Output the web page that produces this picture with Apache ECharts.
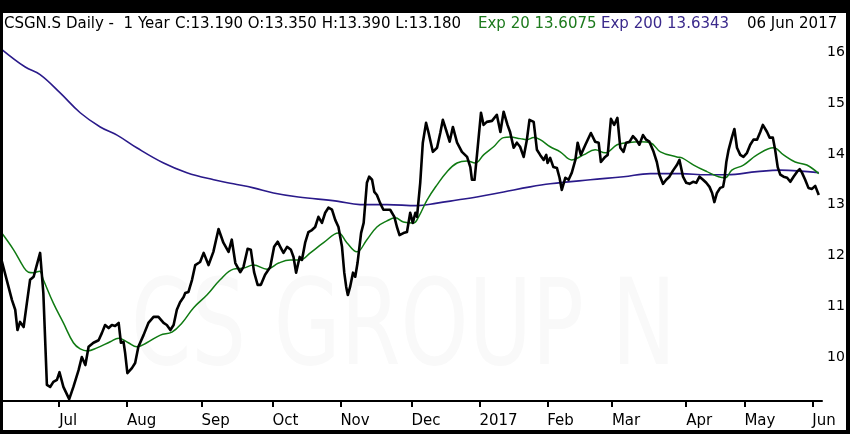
<!DOCTYPE html>
<html>
<head>
<meta charset="utf-8">
<script src="https://cdn.jsdelivr.net/npm/echarts@6/dist/echarts.min.js"></script>
<style>
  html, body { margin: 0; padding: 0; background: #fff; }
  #chart { width: 850px; height: 434px; }
</style>
</head>
<body>
<div id="chart"></div>
<script>
// trading day index (0 = 7 Jun 2016) , price
var closes = [
  [0,11.95],[3.4,11.12],[4.4,10.93],[5.1,10.53],[5.9,10.69],[7.0,10.59],[8.0,11.06],[9.0,11.52],
  [10.1,11.58],[10.9,11.77],[12.1,12.05],[13.1,11.26],[14.2,9.45],[15.2,9.41],[16.2,9.51],[17.3,9.55],
  [18.1,9.70],[19.3,9.41],[21.1,9.17],[22.4,9.41],[24.0,9.74],[25.0,10.00],[26.1,9.84],[27.1,10.20],
  [28.6,10.28],[30.2,10.33],[31.2,10.47],[32.2,10.63],[33.3,10.57],[34.3,10.63],[35.3,10.61],[36.4,10.67],
  [37.1,10.28],[37.9,10.30],[38.4,10.08],[39.1,9.68],[40.5,9.78],[41.5,9.88],[42.5,10.20],[44.1,10.43],
  [45.6,10.67],[47.2,10.79],[48.7,10.79],[50.3,10.67],[51.3,10.63],[52.4,10.53],[53.4,10.63],[54.4,10.93],
  [55.4,11.08],[56.5,11.18],[57.0,11.26],[58.0,11.28],[59.1,11.52],[60.1,11.81],[61.6,11.87],[62.7,12.05],
  [64.2,11.81],[65.7,12.07],[67.3,12.52],[68.8,12.25],[70.4,12.07],[71.4,12.31],[72.5,11.85],[74.0,11.67],
  [75.0,11.77],[76.3,12.13],[77.3,12.11],[78.3,11.67],[79.4,11.42],[80.4,11.42],[81.7,11.62],[83.3,11.77],
  [84.5,12.17],[85.6,12.27],[86.4,12.17],[87.4,12.05],[88.5,12.17],[89.7,12.11],[90.5,11.97],[91.3,11.66],
  [92.4,11.97],[93.1,11.91],[94.1,12.25],[95.1,12.46],[96.2,12.50],[97.2,12.56],[98.2,12.76],[99.3,12.64],
  [100.3,12.84],[101.3,12.94],[102.4,12.90],[103.4,12.70],[104.4,12.56],[105.5,12.17],[106.2,11.66],[106.8,11.38],
  [107.3,11.22],[108.0,11.38],[108.9,11.66],[109.6,11.58],[110.3,11.85],[111.4,12.44],[112.2,12.64],[113.2,13.43],
  [113.9,13.55],[114.8,13.49],[115.5,13.25],[116.3,13.19],[117.3,13.03],[118.3,12.90],[119.4,12.90],[120.4,12.90],
  [121.7,12.76],[122.5,12.56],[123.3,12.40],[124.5,12.44],[125.6,12.46],[126.6,12.84],[127.4,12.64],[128.2,12.84],
  [128.7,12.76],[129.7,13.43],[130.5,14.22],[131.5,14.61],[132.3,14.41],[133.6,14.04],[134.9,14.12],[135.9,14.41],
  [136.7,14.67],[137.7,14.47],[138.8,14.24],[139.8,14.53],[141.1,14.22],[142.6,14.04],[144.2,13.94],[145.2,13.74],
  [145.7,13.49],[146.5,13.49],[147.2,13.94],[148.5,14.81],[149.3,14.57],[150.3,14.63],[151.9,14.65],[153.4,14.77],
  [154.5,14.43],[155.5,14.83],[156.7,14.57],[157.5,14.43],[158.6,14.12],[159.6,14.22],[160.6,14.14],[161.7,13.94],
  [162.7,14.28],[163.5,14.67],[164.8,14.63],[165.8,14.08],[166.8,13.98],[167.9,13.88],[168.7,13.98],[169.1,13.82],
  [169.9,13.92],[170.9,13.74],[172.0,13.72],[172.8,13.53],[173.5,13.29],[174.6,13.53],[175.6,13.49],[176.6,13.63],
  [177.7,13.88],[178.4,14.22],[179.4,13.98],[180.8,14.18],[182.5,14.41],[183.8,14.24],[184.9,14.22],[185.6,13.84],
  [186.9,13.94],[187.7,13.98],[188.7,14.69],[189.7,14.57],[190.7,14.71],[191.6,14.12],[192.6,14.04],[193.4,14.22],
  [194.5,14.24],[195.5,14.35],[196.5,14.28],[197.5,14.18],[198.6,14.37],[199.6,14.28],[200.6,14.24],[201.9,14.04],
  [202.9,13.84],[203.7,13.59],[204.8,13.41],[205.8,13.49],[206.8,13.55],[207.9,13.67],[209.1,13.78],[209.9,13.88],
  [211.0,13.55],[212.0,13.43],[213.0,13.41],[214.1,13.45],[215.1,13.43],[216.1,13.55],[217.2,13.49],[218.2,13.43],
  [219.2,13.35],[220.0,13.23],[220.7,13.05],[221.5,13.23],[222.5,13.33],[223.4,13.35],[223.8,13.49],[224.4,13.84],
  [225.1,14.08],[226.1,14.32],[226.9,14.49],[227.7,14.12],[228.7,13.98],[229.7,13.94],[230.8,14.02],[231.8,14.18],
  [232.8,14.28],[233.9,14.28],[234.9,14.43],[235.7,14.57],[237.0,14.43],[237.8,14.32],[238.8,14.32],[239.5,14.08],
  [240.3,13.74],[241.1,13.59],[242.1,13.55],[243.2,13.53],[244.2,13.45],[245.2,13.55],[246.3,13.65],[247.1,13.70],
  [247.8,13.63],[248.8,13.49],[249.8,13.33],[250.9,13.31],[251.9,13.37],[253.0,13.19]
];

var ema20 = [
  [0,12.46],[3.9,12.11],[7.0,11.77],[8.5,11.67],[10.1,11.66],[11.9,11.69],[13.1,11.52],[16.2,11.06],
  [19.3,10.67],[22.4,10.28],[24.5,10.16],[26.8,10.12],[29.7,10.18],[33.8,10.30],[36.4,10.37],[39.4,10.28],
  [42.0,10.20],[45.1,10.28],[49.3,10.43],[52.9,10.49],[56.0,10.67],[59.6,10.97],[63.7,11.22],[67.8,11.52],
  [71.9,11.73],[75.0,11.75],[78.1,11.81],[82.3,11.73],[85.9,11.85],[89.5,11.91],[92.6,11.91],[95.7,12.05],
  [99.8,12.25],[104.4,12.44],[107.0,12.25],[110.1,12.07],[113.2,12.31],[116.3,12.56],[119.4,12.68],[122.0,12.74],
  [124.5,12.66],[127.6,12.64],[129.2,12.76],[131.8,13.09],[134.9,13.39],[138.0,13.65],[141.1,13.82],[144.2,13.86],
  [146.7,13.82],[149.3,13.98],[152.4,14.14],[155.5,14.32],[157.5,14.33],[160.6,14.30],[162.7,14.28],[164.8,14.32],
  [166.8,14.28],[169.9,14.14],[173.0,14.04],[176.6,13.88],[180.2,13.98],[183.8,14.08],[186.9,14.02],[190.6,14.18],
  [193.7,14.22],[197.8,14.24],[200.9,14.22],[204.0,14.04],[209.1,13.94],[210.7,13.92],[214.3,13.78],[218.4,13.65],
  [222.0,13.55],[224.1,13.53],[226.1,13.68],[229.7,13.78],[233.9,13.98],[239.0,14.12],[242.1,13.98],[245.7,13.84],
  [249.3,13.78],[253.0,13.61]
];

var ema200 = [
  [0,16.07],[7.5,15.71],[12.1,15.56],[18.3,15.20],[24.5,14.81],[30.7,14.53],[35.9,14.37],[42.0,14.12],
  [50.3,13.82],[57.5,13.63],[65.8,13.49],[71.9,13.41],[78.1,13.33],[84.3,13.23],[92.0,13.15],[103.9,13.07],
  [111.1,13.00],[119.4,13.00],[128.7,12.98],[134.9,13.03],[141.1,13.09],[147.2,13.15],[155.5,13.25],[163.7,13.35],
  [169.9,13.41],[182.3,13.49],[192.6,13.55],[200.9,13.61],[210.2,13.61],[218.4,13.59],[224.6,13.59],[233.9,13.65],
  [241.1,13.68],[253.0,13.63]
];

var monthTicks = [18, 39, 62, 84, 105, 127, 148, 169, 189, 212, 230, 251];
var monthNames = ['Jul', 'Aug', 'Sep', 'Oct', 'Nov', 'Dec', '2017', 'Feb', 'Mar', 'Apr', 'May', 'Jun'];
var priceTicks = [10, 11, 12, 13, 14, 15, 16];

var FONT = '"DejaVu Sans", sans-serif';

var chart = echarts.init(document.getElementById('chart'));

function txt(x, s, color) {
  return {
    type: 'text', x: x, y: 24, z: 100,
    style: { text: s, fill: color, fontSize: 15, fontFamily: FONT, verticalAlign: 'middle' }
  };
}

var option = {
  backgroundColor: '#fff',
  animation: false,
  grid: { left: 1, right: 28, top: 32, bottom: 33 },
  xAxis: {
    type: 'value',
    min: 0,
    max: 254,
    axisLine: { show: true, onZero: false, lineStyle: { color: '#000', width: 2 } },
    axisTick: { show: true, customValues: monthTicks, length: 6, lineStyle: { color: '#000', width: 2 } },
    axisLabel: {
      customValues: monthTicks,
      margin: 13,
      align: 'left',
      color: '#000',
      fontSize: 15,
      fontFamily: FONT,
      formatter: function (v) { return monthNames[monthTicks.indexOf(v)]; }
    },
    splitLine: { show: false }
  },
  yAxis: {
    type: 'value',
    position: 'right',
    min: 9.133,
    max: 16.40,
    axisLine: { show: true, lineStyle: { color: '#000', width: 2 } },
    axisTick: { show: false },
    axisLabel: {
      customValues: priceTicks,
      margin: 5,
      color: '#000',
      fontSize: 14,
      fontFamily: FONT
    },
    splitLine: { show: false }
  },
  graphic: [
    // watermark
    {
      type: 'text', x: 131, y: 333, z: 0, scaleX: 0.72,
      style: { text: 'CS GROUP N', fill: '#f9f9f9', fontSize: 120, fontFamily: FONT, verticalAlign: 'middle' }
    },
    // frame
    { type: 'rect', z: 100, shape: { x: 0, y: 0, width: 850, height: 13 }, style: { fill: '#000' } },
    { type: 'rect', z: 100, shape: { x: 0, y: 0, width: 3, height: 434 }, style: { fill: '#000' } },
    { type: 'rect', z: 100, shape: { x: 846, y: 0, width: 4, height: 434 }, style: { fill: '#000' } },
    { type: 'rect', z: 100, shape: { x: 0, y: 430, width: 850, height: 4 }, style: { fill: '#000' } },
    // header
    txt(4, 'CSGN.S Daily -  1 Year', '#000'),
    txt(175, 'C:13.190 O:13.350 H:13.390 L:13.180', '#000'),
    txt(478, 'Exp 20 13.6075', '#1d7a1d'),
    txt(601, 'Exp 200 13.6343', '#3b2a8c'),
    txt(747, '06 Jun 2017', '#000')
  ],
  series: [
    {
      name: 'Exp 200',
      type: 'line',
      data: ema200,
      smooth: 0.4,
      showSymbol: false,
      lineStyle: { color: '#2a1a8a', width: 1.6 }
    },
    {
      name: 'Exp 20',
      type: 'line',
      data: ema20,
      smooth: 0.4,
      showSymbol: false,
      lineStyle: { color: '#0f7a12', width: 1.5 }
    },
    {
      name: 'CSGN.S',
      type: 'line',
      data: closes,
      showSymbol: false,
      lineStyle: { color: '#000', width: 2.6, join: 'round' }
    }
  ]
};

chart.setOption(option);
</script>
</body>
</html>
